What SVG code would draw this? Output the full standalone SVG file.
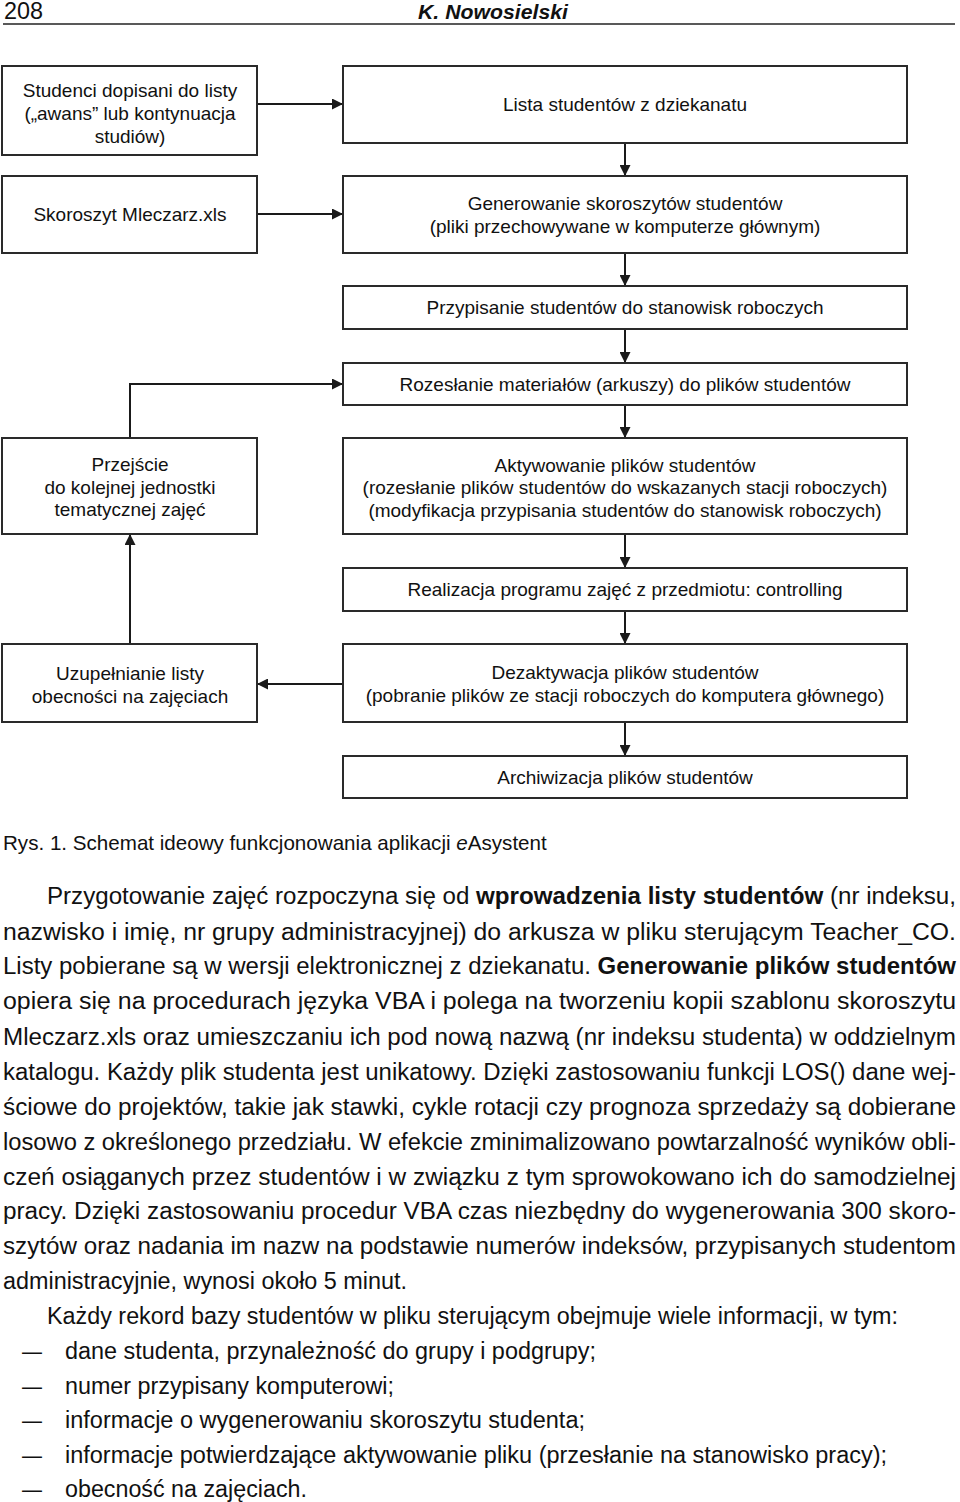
<svg xmlns="http://www.w3.org/2000/svg" width="960" height="1502" viewBox="0 0 960 1502">
<defs>
<marker id="ah" markerUnits="userSpaceOnUse" viewBox="0 0 12 12" refX="12" refY="6" markerWidth="12" markerHeight="11" orient="auto">
<path d="M0,0 L12,6 L0,12 z" fill="#1a1a1a"/>
</marker>
<style>
.bx{fill:#fff;stroke:#2a2a2a;stroke-width:2}
.t{font-family:"Liberation Sans",Arial,sans-serif;font-size:19px;fill:#111;text-anchor:middle}
.c{fill:none;stroke:#1a1a1a;stroke-width:2;marker-end:url(#ah)}
.b{font-family:"Liberation Sans",Arial,sans-serif;font-size:23px;fill:#111}
.bd{font-weight:bold}
.cap{font-size:20.6px}
.hd{font-size:21px;font-weight:bold;font-style:italic}
</style>
</defs>
<rect width="960" height="1502" fill="#fff"/>
<g id="header">
<text class="b" x="4" y="19" textLength="39" lengthAdjust="spacingAndGlyphs">208</text>
<text class="b hd" x="418" y="19" textLength="150" lengthAdjust="spacingAndGlyphs">K. Nowosielski</text>
<line x1="3" y1="24" x2="955" y2="24" stroke="#222" stroke-width="1.6"/>
</g>
<g id="connectors">
<path class="c" d="M257,104 H343"/>
<path class="c" d="M257,214 H343"/>
<path class="c" d="M625,143 V176"/>
<path class="c" d="M625,253 V286"/>
<path class="c" d="M625,329 V363"/>
<path class="c" d="M625,405 V438"/>
<path class="c" d="M625,534 V568"/>
<path class="c" d="M625,611 V644"/>
<path class="c" d="M625,722 V756"/>
<path class="c" d="M130,438 V384 H343"/>
<path class="c" d="M130,644 V534"/>
<path class="c" d="M343,684 H257"/>
</g>
<g id="n-studenci">
<rect class="bx" x="2" y="66" width="255" height="89"/>
<text class="t" x="130" y="97">Studenci dopisani do listy</text>
<text class="t" x="130" y="120">(„awans” lub kontynuacja</text>
<text class="t" x="130" y="143">studiów)</text>
</g>
<g id="n-skoroszyt">
<rect class="bx" x="2" y="176" width="255" height="77"/>
<text class="t" x="130" y="221">Skoroszyt Mleczarz.xls</text>
</g>
<g id="n-przejscie">
<rect class="bx" x="2" y="438" width="255" height="96"/>
<text class="t" x="130" y="471">Przejście</text>
<text class="t" x="130" y="494">do kolejnej jednostki</text>
<text class="t" x="130" y="516">tematycznej zajęć</text>
</g>
<g id="n-uzupelnianie">
<rect class="bx" x="2" y="644" width="255" height="78"/>
<text class="t" x="130" y="680">Uzupełnianie listy</text>
<text class="t" x="130" y="703">obecności na zajęciach</text>
</g>
<g id="n-lista">
<rect class="bx" x="343" y="66" width="564" height="77"/>
<text class="t" x="625" y="111">Lista studentów z dziekanatu</text>
</g>
<g id="n-generowanie">
<rect class="bx" x="343" y="176" width="564" height="77"/>
<text class="t" x="625" y="210">Generowanie skoroszytów studentów</text>
<text class="t" x="625" y="233">(pliki przechowywane w komputerze głównym)</text>
</g>
<g id="n-przypisanie">
<rect class="bx" x="343" y="286" width="564" height="43"/>
<text class="t" x="625" y="314">Przypisanie studentów do stanowisk roboczych</text>
</g>
<g id="n-rozeslanie">
<rect class="bx" x="343" y="363" width="564" height="42"/>
<text class="t" x="625" y="391">Rozesłanie materiałów (arkuszy) do plików studentów</text>
</g>
<g id="n-aktywowanie">
<rect class="bx" x="343" y="438" width="564" height="96"/>
<text class="t" x="625" y="472">Aktywowanie plików studentów</text>
<text class="t" x="625" y="494">(rozesłanie plików studentów do wskazanych stacji roboczych)</text>
<text class="t" x="625" y="517">(modyfikacja przypisania studentów do stanowisk roboczych)</text>
</g>
<g id="n-realizacja">
<rect class="bx" x="343" y="568" width="564" height="43"/>
<text class="t" x="625" y="596">Realizacja programu zajęć z przedmiotu: controlling</text>
</g>
<g id="n-dezaktywacja">
<rect class="bx" x="343" y="644" width="564" height="78"/>
<text class="t" x="625" y="679">Dezaktywacja plików studentów</text>
<text class="t" x="625" y="702">(pobranie plików ze stacji roboczych do komputera głównego)</text>
</g>
<g id="n-archiwizacja">
<rect class="bx" x="343" y="756" width="564" height="42"/>
<text class="t" x="625" y="784">Archiwizacja plików studentów</text>
</g>
<g id="caption">
<text class="b cap" x="3" y="850">Rys. 1. Schemat ideowy funkcjonowania aplikacji <tspan font-style="italic">e</tspan>Asystent</text>
</g>
<g id="body">
<text class="b" x="47" y="904" textLength="909" lengthAdjust="spacingAndGlyphs">Przygotowanie zajęć rozpoczyna się od <tspan class="bd">wprowadzenia listy studentów</tspan> (nr indeksu,</text>
<text class="b" x="3" y="940" textLength="953" lengthAdjust="spacingAndGlyphs">nazwisko i imię, nr grupy administracyjnej) do arkusza w pliku sterującym Teacher_CO.</text>
<text class="b" x="3" y="974" textLength="953" lengthAdjust="spacingAndGlyphs">Listy pobierane są w wersji elektronicznej z dziekanatu. <tspan class="bd">Generowanie plików studentów</tspan></text>
<text class="b" x="3" y="1009" textLength="953" lengthAdjust="spacingAndGlyphs">opiera się na procedurach języka VBA i polega na tworzeniu kopii szablonu skoroszytu</text>
<text class="b" x="3" y="1045" textLength="953" lengthAdjust="spacingAndGlyphs">Mleczarz.xls oraz umieszczaniu ich pod nową nazwą (nr indeksu studenta) w oddzielnym</text>
<text class="b" x="3" y="1080" textLength="953" lengthAdjust="spacingAndGlyphs">katalogu. Każdy plik studenta jest unikatowy. Dzięki zastosowaniu funkcji LOS() dane wej-</text>
<text class="b" x="3" y="1115" textLength="953" lengthAdjust="spacingAndGlyphs">ściowe do projektów, takie jak stawki, cykle rotacji czy prognoza sprzedaży są dobierane</text>
<text class="b" x="3" y="1150" textLength="953" lengthAdjust="spacingAndGlyphs">losowo z określonego przedziału. W efekcie zminimalizowano powtarzalność wyników obli-</text>
<text class="b" x="3" y="1185" textLength="953" lengthAdjust="spacingAndGlyphs">czeń osiąganych przez studentów i w związku z tym sprowokowano ich do samodzielnej</text>
<text class="b" x="3" y="1219" textLength="953" lengthAdjust="spacingAndGlyphs">pracy. Dzięki zastosowaniu procedur VBA czas niezbędny do wygenerowania 300 skoro-</text>
<text class="b" x="3" y="1254" textLength="953" lengthAdjust="spacingAndGlyphs">szytów oraz nadania im nazw na podstawie numerów indeksów, przypisanych studentom</text>
<text class="b" x="3" y="1289" textLength="404" lengthAdjust="spacingAndGlyphs">administracyjnie, wynosi około 5 minut.</text>
<text class="b" x="47" y="1324" textLength="851" lengthAdjust="spacingAndGlyphs">Każdy rekord bazy studentów w pliku sterującym obejmuje wiele informacji, w tym:</text>
<text class="b" x="22" y="1359" textLength="20" lengthAdjust="spacingAndGlyphs">–</text>
<text class="b" x="65" y="1359" textLength="531" lengthAdjust="spacingAndGlyphs">dane studenta, przynależność do grupy i podgrupy;</text>
<text class="b" x="22" y="1394" textLength="20" lengthAdjust="spacingAndGlyphs">–</text>
<text class="b" x="65" y="1394" textLength="329" lengthAdjust="spacingAndGlyphs">numer przypisany komputerowi;</text>
<text class="b" x="22" y="1428" textLength="20" lengthAdjust="spacingAndGlyphs">–</text>
<text class="b" x="65" y="1428" textLength="520" lengthAdjust="spacingAndGlyphs">informacje o wygenerowaniu skoroszytu studenta;</text>
<text class="b" x="22" y="1463" textLength="20" lengthAdjust="spacingAndGlyphs">–</text>
<text class="b" x="65" y="1463" textLength="822" lengthAdjust="spacingAndGlyphs">informacje potwierdzające aktywowanie pliku (przesłanie na stanowisko pracy);</text>
<text class="b" x="22" y="1497" textLength="20" lengthAdjust="spacingAndGlyphs">–</text>
<text class="b" x="65" y="1497" textLength="242" lengthAdjust="spacingAndGlyphs">obecność na zajęciach.</text>
</g>
</svg>
